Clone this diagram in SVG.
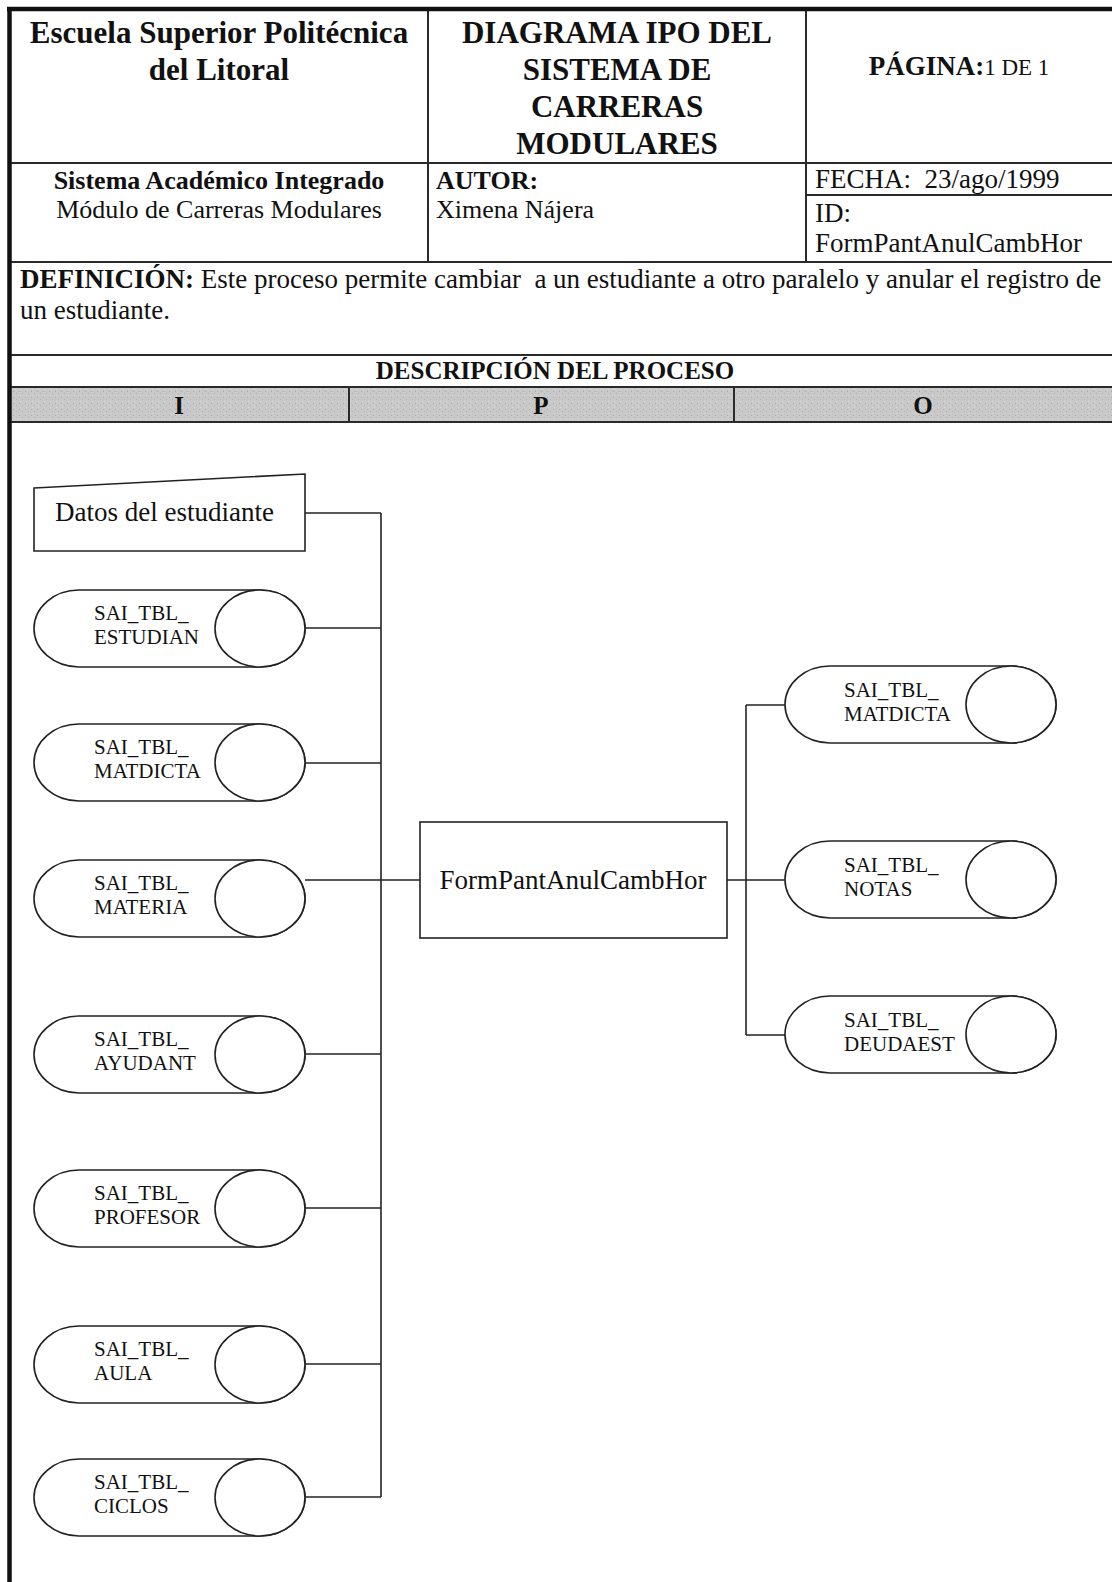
<svg xmlns="http://www.w3.org/2000/svg" width="1112" height="1582" viewBox="0 0 1112 1582">
<style>
.t{font-family:"Liberation Serif","Times New Roman",serif;fill:#111}
.b{font-weight:bold}
.s31{font-size:31px}
.s27{font-size:27px}
.s26{font-size:26px}
.s25{font-size:25px}
.ct{font-size:21px}
.grid{stroke:#2a2a2a;stroke-width:2;fill:none}
.ln{stroke:#222;stroke-width:1.6;fill:none}
.shape{fill:#fff;stroke:#222;stroke-width:1.6}
</style>
<defs>
<pattern id="stipple" width="6" height="6" patternUnits="userSpaceOnUse">
<rect width="6" height="6" fill="#c9c9c9"/>
<rect x="1" y="1" width="1" height="1" fill="#a8a8a8"/>
<rect x="4" y="3" width="1" height="1" fill="#b2b2b2"/>
<rect x="2" y="5" width="1" height="1" fill="#dadada"/>
</pattern>
<g id="cyl">
<path class="shape" d="M45,0 H226 A45,38.5 0 0 1 226,77 H45 A45,38.5 0 0 1 45,0 Z"/>
<ellipse class="shape" cx="226" cy="38.5" rx="45" ry="38.5"/>
</g>
</defs>
<rect x="0" y="0" width="1112" height="1582" fill="#fff"/>

<g id="header">
<rect x="10" y="387" width="1102" height="35" fill="url(#stipple)"/>
<line class="grid" x1="10" y1="163" x2="1112" y2="163"/>
<line class="grid" x1="806" y1="195" x2="1112" y2="195"/>
<line class="grid" x1="10" y1="262" x2="1112" y2="262"/>
<line class="grid" x1="10" y1="355" x2="1112" y2="355"/>
<line class="grid" x1="10" y1="387" x2="1112" y2="387"/>
<line class="grid" x1="10" y1="422" x2="1112" y2="422"/>
<line class="grid" x1="428" y1="9" x2="428" y2="262"/>
<line class="grid" x1="806" y1="9" x2="806" y2="262"/>
<line class="grid" x1="349" y1="387" x2="349" y2="422"/>
<line class="grid" x1="734" y1="387" x2="734" y2="422"/>
<line x1="7" y1="9" x2="1112" y2="9" stroke="#111" stroke-width="4.5"/>
<line x1="9.5" y1="7" x2="9.5" y2="1582" stroke="#111" stroke-width="4.5"/>

<text class="t b s31" x="219" y="43" text-anchor="middle">Escuela Superior Politécnica</text>
<text class="t b s31" x="219" y="80" text-anchor="middle">del Litoral</text>
<text class="t b s31" x="617" y="43" text-anchor="middle">DIAGRAMA IPO DEL</text>
<text class="t b s31" x="617" y="80" text-anchor="middle">SISTEMA DE</text>
<text class="t b s31" x="617" y="117" text-anchor="middle">CARRERAS</text>
<text class="t b s31" x="617" y="154" text-anchor="middle">MODULARES</text>
<text class="t" x="959" y="75" text-anchor="middle"><tspan class="b" font-size="27">PÁGINA:</tspan><tspan font-size="23">1 DE 1</tspan></text>

<text class="t b s26" x="219" y="189" text-anchor="middle">Sistema Académico Integrado</text>
<text class="t s26" x="219" y="218" text-anchor="middle">Módulo de Carreras Modulares</text>
<text class="t b s26" x="436" y="189">AUTOR:</text>
<text class="t s26" x="436" y="218">Ximena Nájera</text>
<text class="t s27" x="815" y="188" xml:space="preserve">FECHA:  23/ago/1999</text>
<text class="t s27" x="815" y="222">ID:</text>
<text class="t s27" x="815" y="252">FormPantAnulCambHor</text>

<text class="t s27" x="20" y="288" xml:space="preserve"><tspan class="b">DEFINICIÓN:</tspan> Este proceso permite cambiar  a un estudiante a otro paralelo y anular el registro de</text>
<text class="t s27" x="20" y="319">un estudiante.</text>

<text class="t b s25" x="555" y="379" text-anchor="middle">DESCRIPCIÓN DEL PROCESO</text>
<text class="t b s25" x="179" y="414" text-anchor="middle">I</text>
<text class="t b s25" x="541" y="414" text-anchor="middle">P</text>
<text class="t b s25" x="923" y="414" text-anchor="middle">O</text>
</g>

<g id="connectors">
<line class="ln" x1="305" y1="513" x2="381" y2="513"/>
<line class="ln" x1="381" y1="513" x2="381" y2="1497"/>
<line class="ln" x1="305" y1="628" x2="381" y2="628"/>
<line class="ln" x1="305" y1="763" x2="381" y2="763"/>
<line class="ln" x1="305" y1="880" x2="420" y2="880"/>
<line class="ln" x1="305" y1="1054" x2="381" y2="1054"/>
<line class="ln" x1="305" y1="1208" x2="381" y2="1208"/>
<line class="ln" x1="305" y1="1364" x2="381" y2="1364"/>
<line class="ln" x1="305" y1="1497" x2="381" y2="1497"/>
<line class="ln" x1="727" y1="880" x2="785" y2="880"/>
<line class="ln" x1="746" y1="705" x2="746" y2="1035"/>
<line class="ln" x1="746" y1="705" x2="785" y2="705"/>
<line class="ln" x1="746" y1="1035" x2="785" y2="1035"/>
</g>

<g id="datos">
<polygon class="shape" points="34,488 305,474 305,551 34,551"/>
<text class="t s27" x="55" y="521">Datos del estudiante</text>
</g>

<g id="in-estudian">
<use href="#cyl" x="34" y="590"/>
<text class="t ct" x="94" y="620">SAI_TBL_</text>
<text class="t ct" x="94" y="644">ESTUDIAN</text>
</g>
<g id="in-matdicta">
<use href="#cyl" x="34" y="724"/>
<text class="t ct" x="94" y="754">SAI_TBL_</text>
<text class="t ct" x="94" y="778">MATDICTA</text>
</g>
<g id="in-materia">
<use href="#cyl" x="34" y="860"/>
<text class="t ct" x="94" y="890">SAI_TBL_</text>
<text class="t ct" x="94" y="914">MATERIA</text>
</g>
<g id="in-ayudant">
<use href="#cyl" x="34" y="1016"/>
<text class="t ct" x="94" y="1046">SAI_TBL_</text>
<text class="t ct" x="94" y="1070">AYUDANT</text>
</g>
<g id="in-profesor">
<use href="#cyl" x="34" y="1170"/>
<text class="t ct" x="94" y="1200">SAI_TBL_</text>
<text class="t ct" x="94" y="1224">PROFESOR</text>
</g>
<g id="in-aula">
<use href="#cyl" x="34" y="1326"/>
<text class="t ct" x="94" y="1356">SAI_TBL_</text>
<text class="t ct" x="94" y="1380">AULA</text>
</g>
<g id="in-ciclos">
<use href="#cyl" x="34" y="1459"/>
<text class="t ct" x="94" y="1489">SAI_TBL_</text>
<text class="t ct" x="94" y="1513">CICLOS</text>
</g>

<g id="process">
<rect class="shape" x="420" y="822" width="307" height="116"/>
<text class="t s27" x="573" y="889" text-anchor="middle">FormPantAnulCambHor</text>
</g>

<g id="out-matdicta">
<use href="#cyl" x="785" y="666"/>
<text class="t ct" x="844" y="697">SAI_TBL_</text>
<text class="t ct" x="844" y="721">MATDICTA</text>
</g>
<g id="out-notas">
<use href="#cyl" x="785" y="841"/>
<text class="t ct" x="844" y="872">SAI_TBL_</text>
<text class="t ct" x="844" y="896">NOTAS</text>
</g>
<g id="out-deudaest">
<use href="#cyl" x="785" y="996"/>
<text class="t ct" x="844" y="1027">SAI_TBL_</text>
<text class="t ct" x="844" y="1051">DEUDAEST</text>
</g>
</svg>
